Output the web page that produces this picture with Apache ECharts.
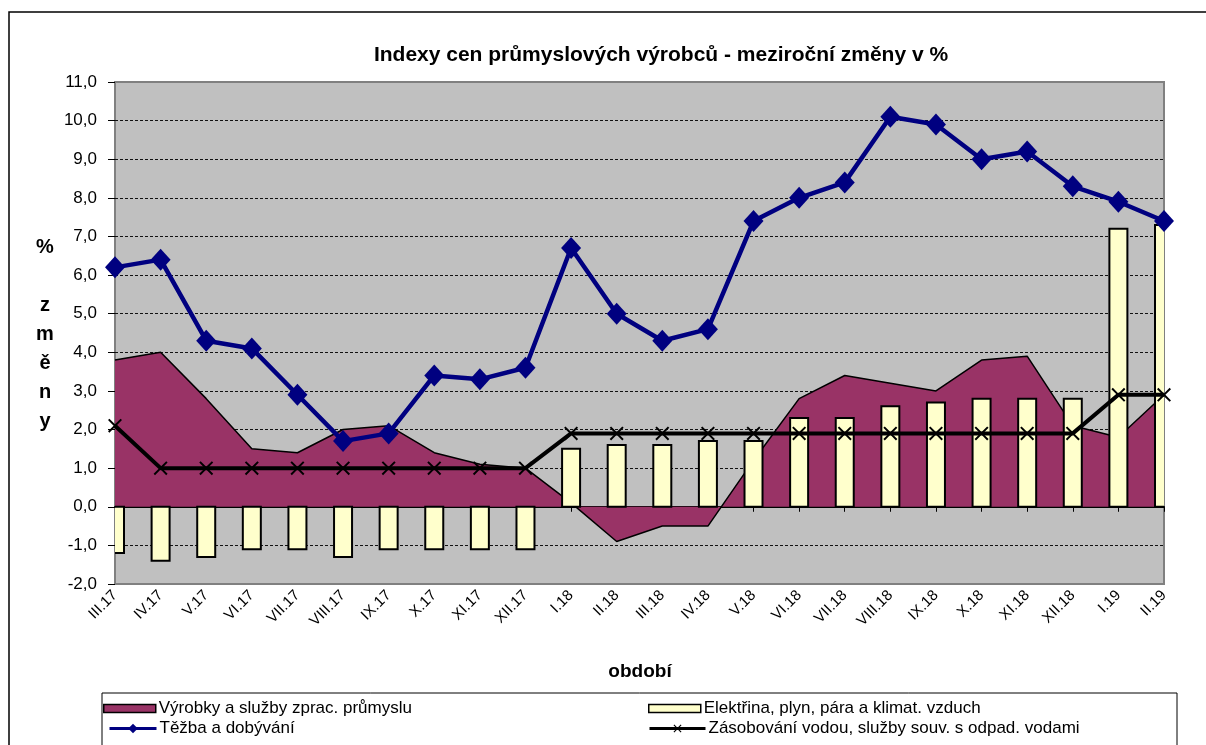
<!DOCTYPE html>
<html>
<head>
<meta charset="utf-8">
<title>Indexy cen průmyslových výrobců</title>
<script src="https://cdn.jsdelivr.net/npm/echarts/dist/echarts.min.js"></script>
<style>
  html, body { margin: 0; padding: 0; background: #fff; }
  #main { width: 1206px; height: 745px; }
</style>
</head>
<body>
<div id="main"></div>
<script>
// období (měsíce)
var categories = ['III.17', 'IV.17', 'V.17', 'VI.17', 'VII.17', 'VIII.17', 'IX.17', 'X.17', 'XI.17', 'XII.17',
  'I.18', 'II.18', 'III.18', 'IV.18', 'V.18', 'VI.18', 'VII.18', 'VIII.18', 'IX.18', 'X.18', 'XI.18', 'XII.18',
  'I.19', 'II.19']

// meziroční změny v %
var vyrobky = [3.8, 4.0, 2.8, 1.5, 1.4, 2.0, 2.1, 1.4, 1.1, 1.0, 0.1, -0.9, -0.5, -0.5, 1.2, 2.8, 3.4, 3.2, 3.0, 3.8, 3.9, 2.1, 1.8, 2.9]
var elektrina = [-1.2, -1.4, -1.3, -1.1, -1.1, -1.3, -1.1, -1.1, -1.1, -1.1, 1.5, 1.6, 1.6, 1.7, 1.7, 2.3, 2.3, 2.6, 2.7, 2.8, 2.8, 2.8, 7.2, 7.3]
var tezba = [6.2, 6.4, 4.3, 4.1, 2.9, 1.7, 1.9, 3.4, 3.3, 3.6, 6.7, 5.0, 4.3, 4.6, 7.4, 8.0, 8.4, 10.1, 9.9, 9.0, 9.2, 8.3, 7.9, 7.4]
var voda = [2.1, 1.0, 1.0, 1.0, 1.0, 1.0, 1.0, 1.0, 1.0, 1.0, 1.9, 1.9, 1.9, 1.9, 1.9, 1.9, 1.9, 1.9, 1.9, 1.9, 1.9, 1.9, 2.9, 2.9]

var names = ['Výrobky a služby zprac. průmyslu', 'Elektřina, plyn, pára a klimat. vzduch',
  'Těžba a dobývání', 'Zásobování vodou, služby souv. s odpad. vodami']

var FONT = '"Liberation Sans", Arial, sans-serif'
var crossPath = 'path://M0,1 L1,0 L5,4 L9,0 L10,1 L6,5 L10,9 L9,10 L5,6 L1,10 L0,9 L4,5 Z'

function legendBox(item, left, top, extra) {
  return Object.assign({
    left: left,
    top: top,
    padding: 0,
    itemWidth: 52,
    itemHeight: 8,
    selectedMode: false,
    textStyle: { fontFamily: FONT, fontSize: 17, color: '#000', padding: [0, 0, 0, -2] },
    data: [item]
  }, extra || {})
}

// sloupce jako custom série, aby se krajní sloupce ořízly na okraji grafu
function renderBar(params, api) {
  var base = api.coord([api.value(0), 0])
  var end = api.coord([api.value(0), api.value(1)])
  var w = 18
  return {
    type: 'rect',
    shape: {
      x: base[0] - w / 2,
      y: Math.min(base[1], end[1]),
      width: w,
      height: Math.abs(base[1] - end[1])
    },
    style: { fill: '#FFFFCC', stroke: '#000', lineWidth: 2 }
  }
}

var myChart = echarts.init(document.getElementById('main'))

var option = {
  backgroundColor: '#fff',
  animation: false,
  textStyle: { fontFamily: FONT },
  grid: {
    left: 115,
    top: 82,
    right: 42,
    bottom: 161,
    show: true,
    backgroundColor: '#C0C0C0',
    borderColor: '#808080',
    borderWidth: 2
  },
  legend: [
    legendBox({ name: names[0], icon: 'rect', itemStyle: { color: '#993366', borderColor: '#000', borderWidth: 1.5 } }, 103, 700),
    legendBox({ name: names[1], icon: 'rect', itemStyle: { color: '#FFFFCC', borderColor: '#000', borderWidth: 1.5 } }, 648, 700),
    legendBox({ name: names[2], lineStyle: { width: 3 } }, 108, 720, { itemWidth: 47, itemHeight: 12 }),
    legendBox({ name: names[3], lineStyle: { width: 3 } }, 648, 720, { itemWidth: 56, itemHeight: 10 })
  ],
  xAxis: [
    {
      type: 'category',
      data: categories,
      boundaryGap: false,
      axisLine: { show: false, onZero: false },
      axisTick: { show: false },
      axisLabel: {
        interval: 0,
        rotate: 45,
        margin: 9,
        fontSize: 15,
        color: '#000'
      },
      splitLine: { show: false }
    },
    {
      // osa v nule s ryskami
      type: 'category',
      data: categories,
      boundaryGap: false,
      position: 'bottom',
      axisLine: { show: true, onZero: true, lineStyle: { color: '#000', width: 2 } },
      axisTick: { show: true, length: 5, lineStyle: { color: '#000', width: 1 } },
      axisLabel: { show: false },
      splitLine: { show: false }
    }
  ],
  yAxis: {
    type: 'value',
    min: -2,
    max: 11,
    interval: 1,
    axisLine: { show: false },
    axisTick: { show: true, length: 7, lineStyle: { color: '#000', width: 1 } },
    axisLabel: {
      margin: 18,
      fontSize: 17,
      color: '#000',
      formatter: function (v) { return v.toFixed(1).replace('.', ',') }
    },
    splitLine: {
      show: true,
      showMinLine: false,
      showMaxLine: false,
      lineStyle: { color: '#111', width: 1, type: [3, 2] }
    }
  },
  series: [
    {
      name: names[0],
      type: 'line',
      data: vyrobky,
      symbol: 'none',
      itemStyle: { color: '#993366' },
      lineStyle: { color: '#000', width: 1.5 },
      areaStyle: { color: '#993366', opacity: 1 },
      z: 1
    },
    {
      name: names[1],
      type: 'custom',
      renderItem: renderBar,
      data: elektrina.map(function (v, i) { return [i, v] }),
      encode: { x: 0, y: 1 },
      clip: true,
      itemStyle: { color: '#FFFFCC' },
      z: 2
    },
    {
      name: names[2],
      type: 'line',
      data: tezba,
      symbol: 'diamond',
      symbolSize: [20, 22],
      itemStyle: { color: '#000080' },
      lineStyle: { color: '#000080', width: 4.5 },
      z: 4
    },
    {
      name: names[3],
      type: 'line',
      data: voda,
      symbol: crossPath,
      symbolSize: 14,
      itemStyle: { color: '#000' },
      lineStyle: { color: '#000', width: 4 },
      z: 3
    }
  ],
  graphic: [
    {
      // vnější rámeček
      type: 'rect',
      shape: { x: 9, y: 12, width: 1300, height: 800 },
      style: { fill: 'none', stroke: '#000', lineWidth: 1.5 },
      silent: true
    },
    {
      type: 'rect',
      shape: { x: 102, y: 693, width: 1075, height: 80 },
      style: { fill: 'none', stroke: '#000', lineWidth: 1 },
      silent: true
    },
    {
      type: 'text',
      x: 661,
      y: 55,
      style: {
        text: 'Indexy cen průmyslových výrobců - meziroční změny v %',
        font: 'bold 21px ' + FONT,
        fill: '#000',
        align: 'center',
        verticalAlign: 'middle'
      }
    },
    {
      type: 'text',
      x: 45,
      y: 233,
      style: {
        text: '%\n\nz\nm\ně\nn\ny',
        font: 'bold 20px ' + FONT,
        lineHeight: 29,
        fill: '#000',
        align: 'center',
        verticalAlign: 'top'
      }
    },
    {
      type: 'text',
      x: 640,
      y: 672,
      style: {
        text: 'období',
        font: 'bold 19px ' + FONT,
        fill: '#000',
        align: 'center',
        verticalAlign: 'middle'
      }
    }
  ]
}

myChart.setOption(option)
</script>
</body>
</html>
